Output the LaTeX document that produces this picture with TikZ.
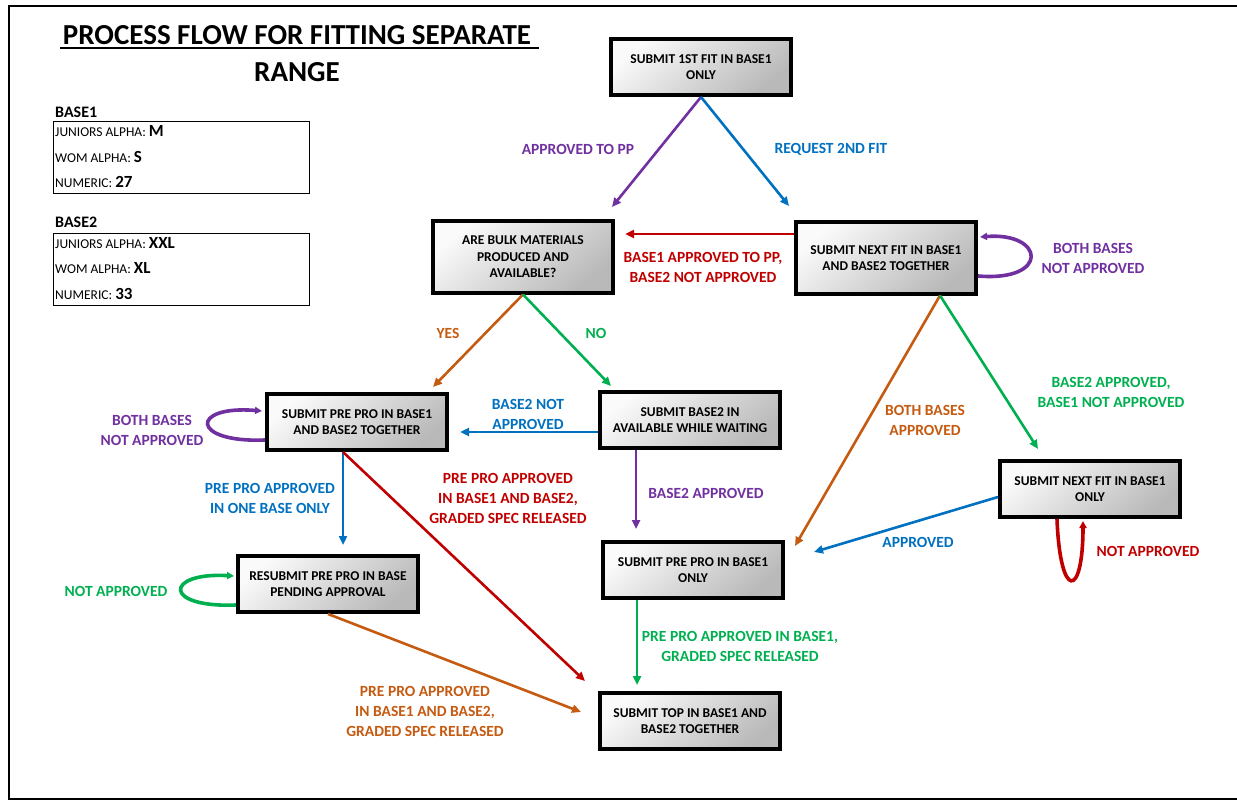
\documentclass[tikz,border=0pt]{standalone}
\usepackage{fontspec}
\setmainfont{Carlito}
\usetikzlibrary{arrows.meta,calc}
\definecolor{cpurple}{HTML}{7030A0}
\definecolor{cblue}{HTML}{0070C0}
\definecolor{cred}{HTML}{C00000}
\definecolor{cgreen}{HTML}{00B050}
\definecolor{corange}{HTML}{C55A11}
\tikzset{
  stepbox/.style={draw=black, line width=4pt, minimum width=180pt, minimum height=56pt,
    align=center, inner sep=2pt,
    top color=gray!4, bottom color=gray!55, shading angle=40,
    font=\bfseries\fontsize{13.5}{16.5}\selectfont},
  lbl/.style={align=center, font=\bfseries\fontsize{15.5}{20}\selectfont},
  conn/.style={line width=2.6pt, -{Triangle[length=9pt,width=8pt]}},
  loopc/.style={line width=3.6pt, -{Triangle[length=7pt,width=7pt]}},
  infobox/.style={draw=black, line width=1.3pt, minimum width=256pt, minimum height=72pt},
  infotxt/.style={anchor=west, inner sep=0pt, font=\fontsize{13.5}{14}\selectfont},
}
\newcommand{\bigv}[1]{{\bfseries\fontsize{17}{17}\selectfont #1}}
\begin{document}
\begin{tikzpicture}[x=1pt,y=-1pt]
\useasboundingbox (0,0) rectangle (1237,805);
% frame
\draw[line width=2pt] (1245,6) -- (9,6) -- (9,799) -- (1245,799);
% title
\node[font=\bfseries\fontsize{29}{29}\selectfont] (title1) at (297,35) {PROCESS FLOW FOR FITTING SEPARATE};
\draw[line width=1.5pt] (60,48) -- (539,48);
\node[font=\bfseries\fontsize{29}{29}\selectfont] (title2) at (297,72) {RANGE};
% base info boxes
\node[anchor=west, inner sep=0pt, font=\bfseries\fontsize{16}{16}\selectfont] (b1lab) at (55,112) {BASE1};
\node[infobox, anchor=north west] (b1box) at (53,121) {};
\node[infotxt] (b1l1) at (55,131) {JUNIORS ALPHA: \bigv{M}};
\node[infotxt] (b1l2) at (55,157) {WOM ALPHA: \bigv{S}};
\node[infotxt] (b1l3) at (55,182) {NUMERIC: \bigv{27}};
\node[anchor=west, inner sep=0pt, font=\bfseries\fontsize{16}{16}\selectfont] (b2lab) at (55,222) {BASE2};
\node[infobox, anchor=north west] (b2box) at (53,233) {};
\node[infotxt] (b2l1) at (55,243) {JUNIORS ALPHA: \bigv{XXL}};
\node[infotxt] (b2l2) at (55,268) {WOM ALPHA: \bigv{XL}};
\node[infotxt] (b2l3) at (55,294) {NUMERIC: \bigv{33}};
% process boxes
\node[stepbox] (n1) at (701,67) {SUBMIT 1ST FIT IN BASE1\\ONLY};
\node[stepbox, minimum height=71pt] (n2) at (523,257) {ARE BULK MATERIALS\\PRODUCED AND\\AVAILABLE?};
\node[stepbox, minimum height=71pt] (n3) at (886,258) {SUBMIT NEXT FIT IN BASE1\\AND BASE2 TOGETHER};
\node[stepbox] (n4) at (357,422) {SUBMIT PRE PRO IN BASE1\\AND BASE2 TOGETHER};
\node[stepbox] (n5) at (690,420) {SUBMIT BASE2 IN\\AVAILABLE WHILE WAITING};
\node[stepbox] (n6) at (1090,489) {SUBMIT NEXT FIT IN BASE1\\ONLY};
\node[stepbox] (n7) at (693,570) {SUBMIT PRE PRO IN BASE1\\ONLY};
\node[stepbox] (n8) at (328,584) {RESUBMIT PRE PRO IN BASE\\PENDING APPROVAL};
\node[stepbox] (n9) at (690,721) {SUBMIT TOP IN BASE1 AND\\BASE2 TOGETHER};
% target coordinates
\coordinate (t12) at (612,207);
\coordinate (t13) at (789,206);
\coordinate (t24) at (433,387);
\coordinate (t25) at (611,386);
\coordinate (t49) at (585,681);
\coordinate (t37) at (795,546);
\coordinate (t36) at (1038,449);
\coordinate (t67) at (814,552);
\coordinate (t89) at (581,712);
% connectors
\draw[conn, cpurple] (n1.south) -- (t12);
\draw[conn, cblue] (n1.south) -- (t13);
\draw[conn, cred] (n3.west |- 0,234) -- (625,234);
\draw[conn, corange] (n2.south) -- (t24);
\draw[conn, cgreen] (n2.south) -- (t25);
\draw[conn, cblue] (n5.west |- 0,432) -- (460,432);
\draw[conn, cblue] (n4.south -| 343,0) -- (343,545);
\draw[conn, cred] (n4.south -| 343,0) -- (t49);
\draw[conn, cpurple] (n5.south -| 636,0) -- (636,529);
\draw[conn, corange] (n3.south -| 940,0) -- (t37);
\draw[conn, cgreen] (n3.south -| 940,0) -- (t36);
\draw[conn, cblue] (n6.west |- 0,497) -- (t67);
\draw[conn, cgreen] (n7.south -| 637,0) -- (637,685);
\draw[conn, corange] (n8.south) -- (t89);
% self loops
\draw[loopc, cpurple] (n3.east |- 0,276) .. controls (1050,282) and (1045,232) .. (980,237);
\draw[loopc, cpurple] (n4.west |- 0,440) .. controls (190,443) and (190,405) .. (262,411);
\draw[loopc, cgreen] (n8.west |- 0,605) .. controls (162,608) and (165,572) .. (234,576);
\draw[loopc, cred] (n6.south -| 1057,0) .. controls (1060,600) and (1083,600) .. (1083,521);
% labels
\node[lbl, cpurple] (l12) at (578,149) {APPROVED TO PP};
\node[lbl, cblue] (l13) at (831,149) {REQUEST 2ND FIT};
\node[lbl, cred] (l32) at (703,267) {BASE1 APPROVED TO PP,\\BASE2 NOT APPROVED};
\node[lbl, cpurple] (l33) at (1093,258) {BOTH BASES\\NOT APPROVED};
\node[lbl, corange] (l24) at (448,333) {YES};
\node[lbl, cgreen] (l25) at (596,333) {NO};
\node[lbl, cblue] (l54) at (528,414) {BASE2 NOT\\APPROVED};
\node[lbl, cpurple] (l44) at (152,430) {BOTH BASES\\NOT APPROVED};
\node[lbl, cblue] (l48) at (270,498) {PRE PRO APPROVED\\IN ONE BASE ONLY};
\node[lbl, cred] (l49) at (508,498) {PRE PRO APPROVED\\IN BASE1 AND BASE2,\\GRADED SPEC RELEASED};
\node[lbl, cpurple] (l57) at (706,493) {BASE2 APPROVED};
\node[lbl, corange] (l37) at (925,420) {BOTH BASES\\APPROVED};
\node[lbl, cgreen] (l36) at (1111,392) {BASE2 APPROVED,\\BASE1 NOT APPROVED};
\node[lbl, cblue] (l67) at (918,542) {APPROVED};
\node[lbl, cred] (l66) at (1148,551) {NOT APPROVED};
\node[lbl, cgreen] (l79) at (740,646) {PRE PRO APPROVED IN BASE1,\\GRADED SPEC RELEASED};
\node[lbl, cgreen] (l88) at (116,591) {NOT APPROVED};
\node[lbl, corange] (l89) at (425,711) {PRE PRO APPROVED\\IN BASE1 AND BASE2,\\GRADED SPEC RELEASED};
\end{tikzpicture}
\end{document}
